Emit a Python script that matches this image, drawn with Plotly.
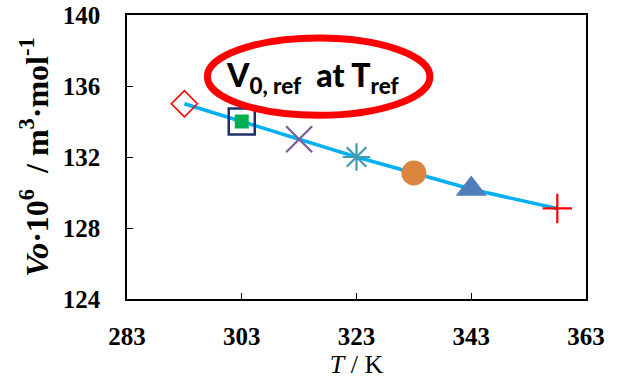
import plotly.graph_objects as go

# Reference molar volume against temperature
temperature_K = [293, 303, 313, 323, 333, 343, 358]
v0_e6 = [135.0, 134.0, 133.0, 132.0, 131.1, 130.2, 129.1]

marker_symbols = ["diamond-open", "square-open", "x-thin-open", "asterisk-open",
                  "circle", "triangle-up", "cross-thin-open"]
marker_colors = ["#FF0000", "#1F2F6B", "#7A5C9E", "#3F9BB3",
                 "#DB853F", "#4F7EBB", "#FF0000"]
marker_sizes = [20, 26, 26, 23, 25, 27, 21]
marker_lines = [1.6, 2.5, 2.2, 2.2, 0, 0, 2.2]

x_ticks = [283, 303, 323, 343, 363]
y_ticks = [124, 128, 132, 136, 140]

serif = "Liberation Serif"

fig = go.Figure()

# smooth curve through the points
fig.add_trace(go.Scatter(
    x=temperature_K, y=v0_e6, mode="lines",
    line=dict(color="#00B0F0", width=3.5, shape="spline", smoothing=0.6),
    hoverinfo="skip", showlegend=False,
))

# one marker style per temperature
fig.add_trace(go.Scatter(
    x=temperature_K, y=v0_e6, mode="markers",
    marker=dict(symbol=marker_symbols, color=marker_colors, size=marker_sizes,
                opacity=1,
                line=dict(width=marker_lines, color=marker_colors)),
    opacity=1, showlegend=False,
))

# green fill inside the 303 K square
fig.add_trace(go.Scatter(
    x=[temperature_K[1]], y=[v0_e6[1]], mode="markers",
    marker=dict(symbol="square", color="#00B050", size=14, opacity=1,
                line=dict(width=0)),
    showlegend=False,
))

# red ellipse callout
fig.add_shape(type="circle", xref="x", yref="y",
              x0=297.0, x1=335.8, y0=134.35, y1=138.7,
              line=dict(color="#FF0000", width=7), layer="above")

fig.add_annotation(
    x=315.5, y=136.5, xref="x", yref="y", showarrow=False,
    text="V<sub>0, ref</sub>  at T<sub>ref</sub>",
    font=dict(family="Lato", size=32, color="#000000", weight=900),
)

axis_common = dict(
    showline=True, linecolor="#000000", linewidth=1.5, mirror=True,
    ticks="inside", ticklen=6, tickwidth=1, tickcolor="#000000",
    showgrid=False, zeroline=False,
    tickfont=dict(family=serif, size=25, color="#000000", weight="bold"),
)

fig.update_xaxes(
    range=[283, 363], tickvals=x_ticks, ticktext=[str(v) for v in x_ticks],
    ticklabelstandoff=14,
    title=dict(text="<i>T</i> / K", font=dict(family=serif, size=26, color="#000000"),
               standoff=2),
    **axis_common,
)
fig.update_yaxes(
    range=[124, 140], tickvals=y_ticks, ticktext=[str(v) for v in y_ticks],
    ticklabelstandoff=20,
    title=dict(text="<i>Vo</i>·10<sup>6</sup>  / m<sup>3</sup>·mol<sup>-1</sup>",
               font=dict(family=serif, size=32, color="#000000", weight="bold"),
               standoff=5),
    **axis_common,
)

fig.update_layout(
    width=633, height=382,
    margin=dict(l=127, r=47, t=15, b=83, autoexpand=False),
    paper_bgcolor="#FFFFFF", plot_bgcolor="#FFFFFF",
)

fig.write_html("out.html")
